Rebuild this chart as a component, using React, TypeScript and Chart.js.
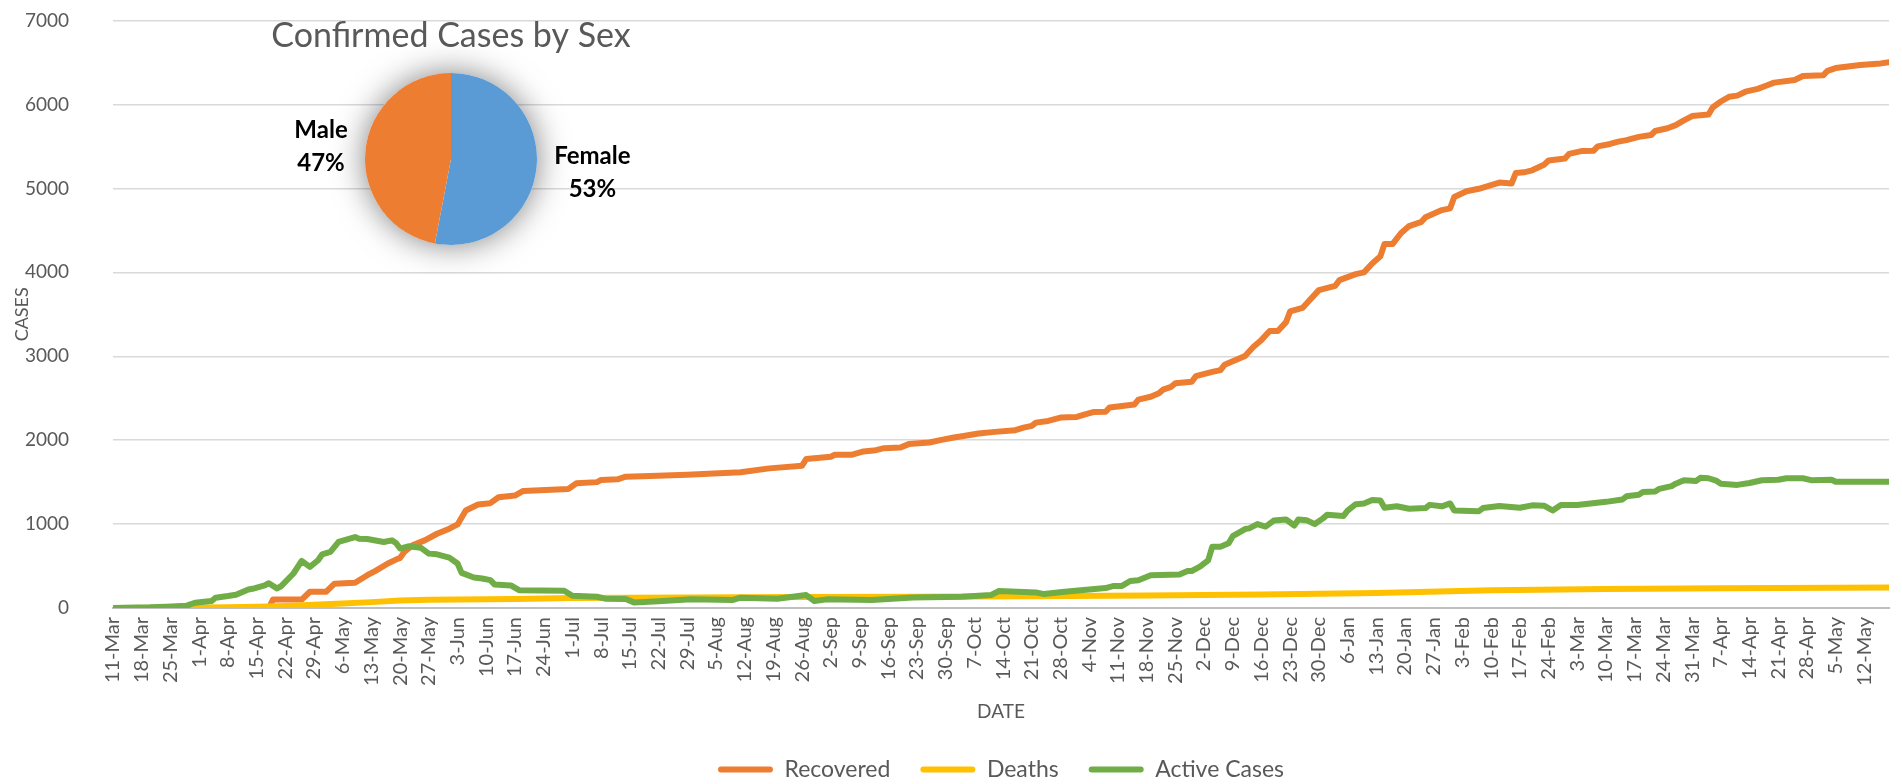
import React, { useEffect, useRef } from "react";
import { Chart, registerables } from "chart.js";

Chart.register(...registerables);

// ---------- data ----------
const startDateUTC = Date.UTC(2020, 2, 11); // day 0 = 11-Mar-2020
const monthNames = ["Jan", "Feb", "Mar", "Apr", "May", "Jun", "Jul", "Aug", "Sep", "Oct", "Nov", "Dec"];
const lastDay = 433;
const tickStepDays = 7;

const recoveredDays = [0, 38, 39, 46, 48, 52, 54, 59, 62, 64, 67, 69, 70, 71, 73, 76, 79, 82, 84, 86, 89, 92, 94, 98, 100, 111, 113, 118, 119, 123, 125, 131, 140, 153, 160, 168, 169, 175, 176, 180, 183, 186, 188, 192, 194, 199, 202, 205, 207, 211, 215, 220, 222, 224, 225, 228, 231, 235, 237, 239, 242, 243, 249, 250, 253, 255, 256, 258, 259, 263, 264, 268, 270, 271, 274, 276, 278, 280, 282, 284, 286, 287, 290, 292, 294, 298, 299, 303, 305, 307, 309, 310, 312, 314, 316, 319, 320, 324, 326, 327, 330, 333, 336, 338, 341, 342, 344, 346, 349, 350, 354, 355, 358, 361, 362, 365, 367, 369, 372, 375, 376, 379, 381, 383, 385, 389, 390, 392, 394, 396, 398, 401, 403, 405, 410, 412, 417, 418, 420, 424, 426, 431, 433];
const recoveredCases = [0, 0, 100, 100, 194, 194, 290, 300, 391, 443, 530, 577, 597, 668, 747, 806, 885, 945, 996, 1162, 1233, 1249, 1320, 1340, 1395, 1419, 1486, 1500, 1526, 1534, 1565, 1573, 1589, 1617, 1664, 1696, 1775, 1802, 1826, 1826, 1866, 1881, 1905, 1913, 1953, 1972, 2004, 2032, 2047, 2079, 2099, 2119, 2150, 2170, 2209, 2229, 2269, 2277, 2308, 2335, 2339, 2390, 2424, 2483, 2517, 2559, 2602, 2636, 2678, 2695, 2763, 2814, 2835, 2898, 2962, 3004, 3110, 3195, 3301, 3301, 3407, 3534, 3576, 3682, 3788, 3839, 3907, 3979, 4000, 4106, 4191, 4339, 4339, 4466, 4551, 4602, 4657, 4742, 4763, 4898, 4966, 4996, 5040, 5070, 5060, 5183, 5192, 5216, 5286, 5333, 5356, 5412, 5445, 5450, 5501, 5530, 5558, 5576, 5614, 5637, 5684, 5717, 5754, 5811, 5862, 5881, 5965, 6036, 6092, 6106, 6153, 6186, 6223, 6261, 6293, 6340, 6350, 6401, 6434, 6458, 6472, 6490, 6504];

const deathDays = [0, 14, 28, 35, 42, 49, 56, 63, 70, 77, 84, 98, 112, 140, 168, 196, 224, 252, 280, 308, 336, 364, 392, 420, 433];
const deathCases = [0, 2, 8, 15, 25, 40, 55, 70, 88, 97, 100, 108, 118, 125, 130, 135, 140, 148, 160, 180, 212, 225, 235, 242, 245];

const activeDays = [0, 9, 13, 18, 20, 24, 25, 28, 30, 33, 34, 37, 38, 40, 41, 44, 46, 48, 50, 51, 53, 55, 59, 60, 62, 66, 68, 69, 70, 72, 75, 77, 79, 82, 84, 85, 88, 90, 92, 93, 97, 99, 110, 112, 118, 120, 125, 127, 133, 141, 151, 153, 162, 169, 171, 174, 185, 195, 207, 214, 216, 225, 227, 232, 238, 242, 244, 246, 248, 250, 253, 260, 262, 263, 265, 267, 268, 270, 272, 273, 276, 277, 279, 281, 283, 286, 288, 289, 291, 293, 295, 296, 300, 301, 303, 305, 307, 309, 310, 313, 316, 320, 321, 324, 326, 327, 333, 334, 338, 343, 346, 349, 351, 353, 357, 364, 368, 369, 372, 373, 376, 377, 380, 381, 383, 386, 387, 389, 391, 392, 396, 399, 402, 406, 408, 412, 414, 419, 420, 433];
const activeCases = [0, 8, 16, 28, 63, 83, 122, 142, 158, 221, 229, 269, 296, 233, 261, 411, 561, 490, 569, 640, 668, 787, 846, 826, 822, 787, 806, 775, 708, 735, 719, 648, 640, 601, 530, 419, 364, 352, 332, 281, 269, 213, 206, 146, 134, 111, 107, 67, 79, 103, 95, 123, 111, 154, 83, 103, 95, 126, 134, 154, 202, 186, 166, 194, 220, 237, 263, 263, 322, 330, 390, 398, 441, 441, 492, 568, 729, 729, 771, 856, 941, 949, 1000, 970, 1042, 1055, 983, 1055, 1047, 1000, 1068, 1110, 1097, 1161, 1237, 1246, 1288, 1280, 1195, 1212, 1182, 1191, 1229, 1212, 1246, 1161, 1153, 1191, 1215, 1195, 1223, 1218, 1162, 1228, 1228, 1265, 1293, 1331, 1350, 1382, 1387, 1420, 1453, 1481, 1523, 1514, 1551, 1546, 1514, 1481, 1467, 1490, 1523, 1528, 1546, 1546, 1523, 1528, 1504, 1504];

const sexLabels = ["Female", "Male"];
const sexShares = [53, 47];

// ---------- style ----------
const FONT = "Lato, 'Liberation Sans', Arial, sans-serif";
const TEXT = "#595959";
const ORANGE = "#ED7D31";
const YELLOW = "#FFC000";
const GREEN = "#70AD47";
const BLUE = "#5B9BD5";

const W = 1902;
const H = 784;
const PLOT_LEFT = 113;
const PLOT_TOP = 20.6;
const PLOT_BOTTOM = 608;
const PLOT_RIGHT = 1889;
const LAYOUT_BOTTOM = -7;
const LEGEND_FONT = 23;
const LEGEND_PAD = 30;
const LEGEND_H = LEGEND_FONT + LEGEND_PAD + 10;
const XTITLE_FONT = 19;
const XTITLE_Y = 712;
const Y_LABEL_GAP = 44;

function dayLabel(d: number): string {
  const dt = new Date(startDateUTC + d * 86400000);
  return `${dt.getUTCDate()}-${monthNames[dt.getUTCMonth()]}`;
}

function points(days: number[], vals: number[]) {
  return days.map((d, i) => ({ x: d, y: vals[i] }));
}

const lineCommon = {
  borderWidth: 6,
  pointRadius: 0,
  pointHoverRadius: 0,
  tension: 0,
  fill: false,
  borderJoinStyle: "round" as const,
  borderCapStyle: "round" as const,
};

const pieShadow = {
  id: "pieShadow",
  beforeDatasetsDraw(chart: any) {
    const arc = chart.getDatasetMeta(0).data[0];
    if (!arc) return;
    const { x, y, outerRadius } = arc.getProps(["x", "y", "outerRadius"], true);
    const ctx = chart.ctx;
    ctx.save();
    ctx.beginPath();
    ctx.arc(x, y, outerRadius, 0, Math.PI * 2);
    ctx.shadowColor = "rgba(0,0,0,0.5)";
    ctx.shadowBlur = 32;
    ctx.fillStyle = "#ffffff";
    ctx.fill();
    ctx.restore();
  },
};

const pieLabels = {
  id: "pieLabels",
  afterDatasetsDraw(chart: any) {
    const ctx = chart.ctx;
    const meta = chart.getDatasetMeta(0);
    const labels = chart.data.labels as string[];
    const values = chart.data.datasets[0].data as number[];
    ctx.save();
    ctx.font = `bold 24px ${FONT}`;
    ctx.fillStyle = "#000000";
    ctx.textAlign = "center";
    ctx.textBaseline = "middle";
    meta.data.forEach((arc: any, i: number) => {
      const { x, y, startAngle, endAngle, outerRadius } = arc.getProps(
        ["x", "y", "startAngle", "endAngle", "outerRadius"],
        true
      );
      const mid = (startAngle + endAngle) / 2;
      const l1 = labels[i];
      const l2 = `${values[i]}%`;
      const w = Math.max(ctx.measureText(l1).width, ctx.measureText(l2).width);
      const dist = outerRadius + 18 + Math.abs(Math.cos(mid)) * w / 2;
      const px = x + Math.cos(mid) * dist;
      const py = y + Math.sin(mid) * dist;
      ctx.fillText(l1, px, py - 16.5);
      ctx.fillText(l2, px, py + 16.5);
    });
    ctx.restore();
  },
};

export default function App() {
  const mainRef = useRef<HTMLCanvasElement>(null);
  const pieRef = useRef<HTMLCanvasElement>(null);

  useEffect(() => {
    Chart.defaults.font.family = FONT;
    Chart.defaults.color = TEXT;

    const defaultGen = (Chart.defaults.plugins.legend.labels as any).generateLabels;

    const main = new Chart(mainRef.current as HTMLCanvasElement, {
      type: "line",
      data: {
        datasets: [
          { ...lineCommon, label: "Recovered", data: points(recoveredDays, recoveredCases), borderColor: ORANGE, backgroundColor: ORANGE, order: 2 },
          { ...lineCommon, label: "Deaths", data: points(deathDays, deathCases), borderColor: YELLOW, backgroundColor: YELLOW, order: 1 },
          { ...lineCommon, label: "Active Cases", data: points(activeDays, activeCases), borderColor: GREEN, backgroundColor: GREEN, order: 0 },
        ],
      },
      options: {
        responsive: false,
        animation: false,
        events: [],
        layout: { padding: { left: 0, top: PLOT_TOP, right: W - PLOT_RIGHT, bottom: LAYOUT_BOTTOM } },
        scales: {
          x: {
            type: "linear",
            min: 0,
            max: lastDay,
            grid: { display: false, drawTicks: false },
            border: { display: true, color: "#BFBFBF", width: 2 },
            ticks: {
              stepSize: tickStepDays,
              autoSkip: false,
              includeBounds: false,
              minRotation: 90,
              maxRotation: 90,
              padding: 9,
              color: TEXT,
              font: { family: FONT, size: 20 },
              callback: (v: any) => dayLabel(Number(v)),
            },
            title: {
              display: true,
              text: "DATE",
              color: TEXT,
              font: { family: FONT, size: XTITLE_FONT },
              padding: { top: 0, bottom: H - LAYOUT_BOTTOM - LEGEND_H - XTITLE_Y - (XTITLE_FONT * 1.2) / 2 },
            },
            afterFit: (scale: any) => {
              scale.height = H - LAYOUT_BOTTOM - LEGEND_H - PLOT_BOTTOM;
            },
          } as any,
          y: {
            min: 0,
            max: 7000,
            grid: {
              color: "#D9D9D9",
              lineWidth: 1.5,
              drawTicks: true,
              tickLength: Y_LABEL_GAP - 4,
              tickColor: "rgba(0,0,0,0)",
            },
            border: { display: false },
            ticks: {
              stepSize: 1000,
              padding: 4,
              color: TEXT,
              font: { family: FONT, size: 19 },
              callback: (v: any) => String(v),
            },
            title: {
              display: true,
              text: "CASES",
              color: TEXT,
              font: { family: FONT, size: 18 },
              padding: { top: 11, bottom: 0 },
            },
            afterFit: (scale: any) => {
              scale.width = PLOT_LEFT;
            },
          },
        },
        plugins: {
          tooltip: { enabled: false },
          title: { display: false },
          legend: {
            display: true,
            position: "bottom",
            fullSize: false,
            labels: {
              color: TEXT,
              font: { family: FONT, size: LEGEND_FONT },
              boxWidth: 55,
              boxHeight: 6,
              useBorderRadius: true,
              borderRadius: 3,
              padding: LEGEND_PAD,
              sort: (a: any, b: any) => a.datasetIndex - b.datasetIndex,
              generateLabels: (chart: any) =>
                defaultGen(chart).map((l: any) => ({ ...l, fillStyle: l.strokeStyle, lineWidth: 0 })),
            },
          } as any,
        },
      },
    });

    const pie = new Chart(pieRef.current as HTMLCanvasElement, {
      type: "pie",
      data: {
        labels: sexLabels,
        datasets: [{ data: sexShares, backgroundColor: [BLUE, ORANGE], borderWidth: 0 }],
      },
      options: {
        responsive: false,
        animation: false,
        events: [],
        layout: { padding: { left: 0, right: 0, top: 0, bottom: 30 } },
        plugins: {
          legend: { display: false },
          tooltip: { enabled: false },
          title: {
            display: true,
            text: "Confirmed Cases by Sex",
            color: TEXT,
            font: { family: FONT, size: 34, weight: "normal" },
            padding: { top: 15.6, bottom: 16.6 },
          },
        },
      },
      plugins: [pieShadow, pieLabels],
    });

    return () => {
      main.destroy();
      pie.destroy();
    };
  }, []);

  return (
    <div style={{ position: "absolute", left: 0, top: 0, width: W, height: H, overflow: "hidden", background: "#ffffff" }}>
      <canvas ref={mainRef} width={W} height={H} style={{ position: "absolute", left: 0, top: 0 }} />
      <canvas ref={pieRef} width={430} height={275} style={{ position: "absolute", left: 236, top: 0 }} />
    </div>
  );
}
